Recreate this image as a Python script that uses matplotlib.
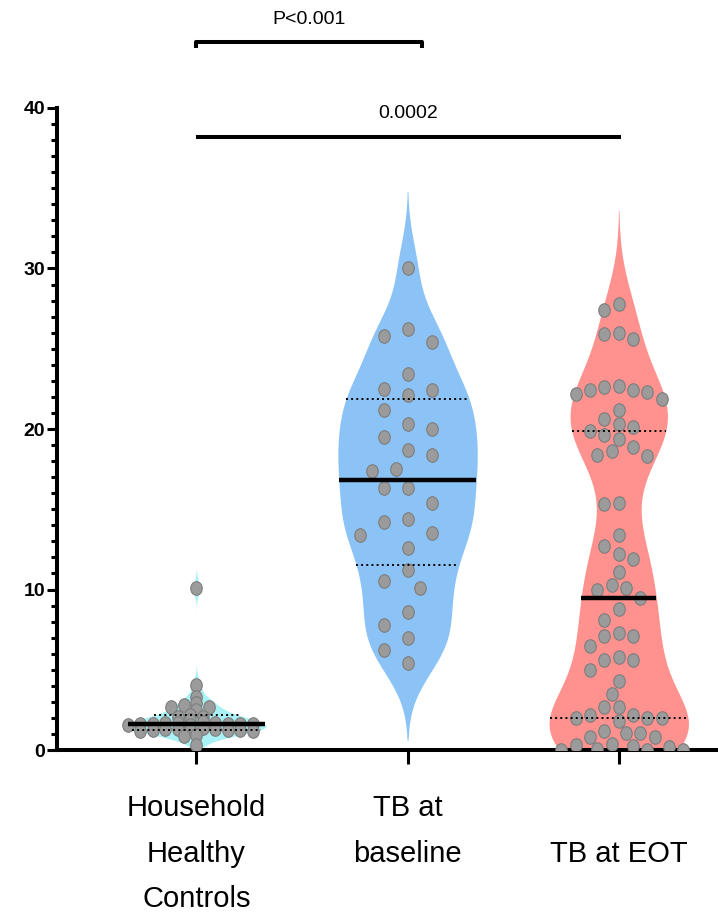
import matplotlib
matplotlib.use('Agg')
import matplotlib.pyplot as plt
import numpy as np
from matplotlib.path import Path
from matplotlib.transforms import Affine2D

plt.rcParams['font.family'] = ['Liberation Sans', 'DejaVu Sans']

groups = ['Household\nHealthy\nControls', 'TB at\nbaseline', '\nTB at EOT']

hc = np.array([10.1, 4.05, 3.3, 2.9, 2.8, 2.7, 2.65, 2.5, 2.2, 2.07, 2.07, 1.87,
               1.72, 1.7, 1.68, 1.66, 1.65, 1.64, 1.62, 1.6, 1.6, 1.58, 1.55,
               1.35, 1.32, 1.3, 1.28, 1.26, 1.25, 1.24, 1.22, 1.2, 1.18,
               0.93, 0.9, 0.3])

tb_base = np.array([30.0, 26.2, 25.8, 25.4, 23.4, 22.5, 22.4, 22.1, 21.2, 20.3, 20.0, 19.5,
                    18.7, 18.4, 17.5, 17.4, 16.3, 16.3, 15.4, 14.4, 14.2, 13.5, 13.4, 12.6,
                    11.2, 10.5, 10.1, 8.6, 7.8, 7.0, 6.2, 5.4])

tb_eot = np.array([27.8, 27.4, 26.0, 25.9, 25.6, 22.7, 22.6, 22.4, 22.4, 22.3, 22.2, 21.9,
                   21.2, 20.6, 20.3, 20.1, 19.9, 19.6, 19.4, 18.9, 18.6, 18.4, 18.3,
                   15.4, 15.3, 13.4, 12.7, 12.2, 11.9, 11.1, 10.3, 10.1, 10.0, 9.5, 8.8,
                   8.1, 7.3, 7.1, 7.1, 6.5, 5.8, 5.6, 5.6, 5.0, 4.3, 3.5, 2.7, 2.65, 2.2,
                   2.2, 2.0, 2.0, 2.0, 1.8, 1.2, 1.04, 1.04, 0.83, 0.83, 0.4, 0.3, 0.25,
                   0.17, 0.05, 0.0, 0.0, 0.0])

data = [hc, tb_base, tb_eot]
colors = ['#a8f1f4', '#8cc3f7', '#ff928e']

comparisons = [(0, 1, 'P<0.001'), (0, 2, '0.0002')]

# scatter layout per group: min horizontal / vertical gap between points, px
gap_x = [12.5, 24.0, 14.3]
gap_y = [5.0, 20.0, 14.0]
px_per_x = 211.0
px_per_y = 16.05


def kde(vals, grid, bw):
    z = (grid[:, None] - vals[None, :]) / bw
    return np.exp(-0.5 * z ** 2).sum(axis=1)


def swarm(vals, dw, dh):
    # greedy placement on a half-step grid, nearest free slot to the centre
    steps = [0.0]
    for k in range(1, 40):
        steps += [-k * dw / 2, k * dw / 2]
    placed = []
    offs = np.zeros(len(vals))
    for idx in np.argsort(-vals, kind='stable'):
        y = vals[idx] * px_per_y
        for s in steps:
            if all(((s - px) / dw) ** 2 + ((y - py) / dh) ** 2 >= 0.999 for px, py in placed):
                break
        placed.append((s, y))
        offs[idx] = s / px_per_x
    return offs


fig = plt.figure(figsize=(7.18, 9.13), dpi=100)
ax = fig.add_axes([57 / 718, 163 / 913, 661 / 718, 642 / 913])

half_w = 0.33
dot = Path.unit_circle().transformed(Affine2D().scale(0.85, 1.0))

for i, vals in enumerate(data):
    bw = 0.6 * vals.std(ddof=1) * len(vals) ** (-0.2)
    grid = np.linspace(vals.min() - 2.5 * bw, vals.max() + 2.5 * bw, 400)
    dens = kde(vals, grid, bw)
    dens = dens / dens.max() * half_w
    ax.fill_betweenx(grid, i - dens, i + dens, color=colors[i], lw=0, zorder=1)

    offs = swarm(vals, gap_x[i], gap_y[i])
    ax.scatter(i + offs, vals, s=95, marker=dot, color='#9b9b9b', edgecolor='#7d7d7d',
               linewidth=0.8, zorder=3)

    q1, med, q3 = np.percentile(vals, [25, 50, 75], method='weibull')
    for q, ls, lw in [(q1, ':', 1.4), (q3, ':', 1.4), (med, '-', 3.2)]:
        wq = np.interp(q, grid, dens)
        ax.plot([i - wq, i + wq], [q, q], color='black', ls=ls, lw=lw, zorder=4,
                solid_capstyle='butt')

ax.set_xlim(-0.66, 2.47)
ax.set_ylim(0, 40)
ax.spines['top'].set_visible(False)
ax.spines['right'].set_visible(False)
ax.spines['left'].set_linewidth(2.9)
ax.spines['bottom'].set_linewidth(2.9)
ax.spines['left'].set_bounds(0, 40)

ax.set_yticks([0, 10, 20, 30, 40])
ax.set_yticks(np.arange(0, 41, 1), minor=True)
ax.tick_params(axis='y', which='major', length=7.5, width=2.2, labelsize=14, pad=1)
ax.tick_params(axis='y', which='minor', length=4.5, width=2.2)
for t in ax.get_yticklabels():
    t.set_fontweight('bold')

ax.set_xticks(range(len(groups)))
ax.set_xticklabels(groups, fontsize=21, linespacing=1.78, va='top')
ax.tick_params(axis='x', length=10, width=2.2, pad=22)

# significance brackets
bracket_y = [44.1, 38.2]
for (a, b, label), y in zip(comparisons, bracket_y):
    xb = b + 0.066 if b == 1 else b + 0.01
    if b == 1:
        ax.plot([a, a, xb, xb], [y - 0.35, y, y, y - 0.35], color='black', lw=2.9,
                clip_on=False, solid_capstyle='butt')
    else:
        ax.plot([a, xb], [y, y], color='black', lw=2.9, clip_on=False,
                solid_capstyle='butt')
    ax.text((a + xb) / 2, y + 0.9, label, ha='center', va='bottom', fontsize=14,
            clip_on=False)

fig.savefig('out.png', dpi=100)
